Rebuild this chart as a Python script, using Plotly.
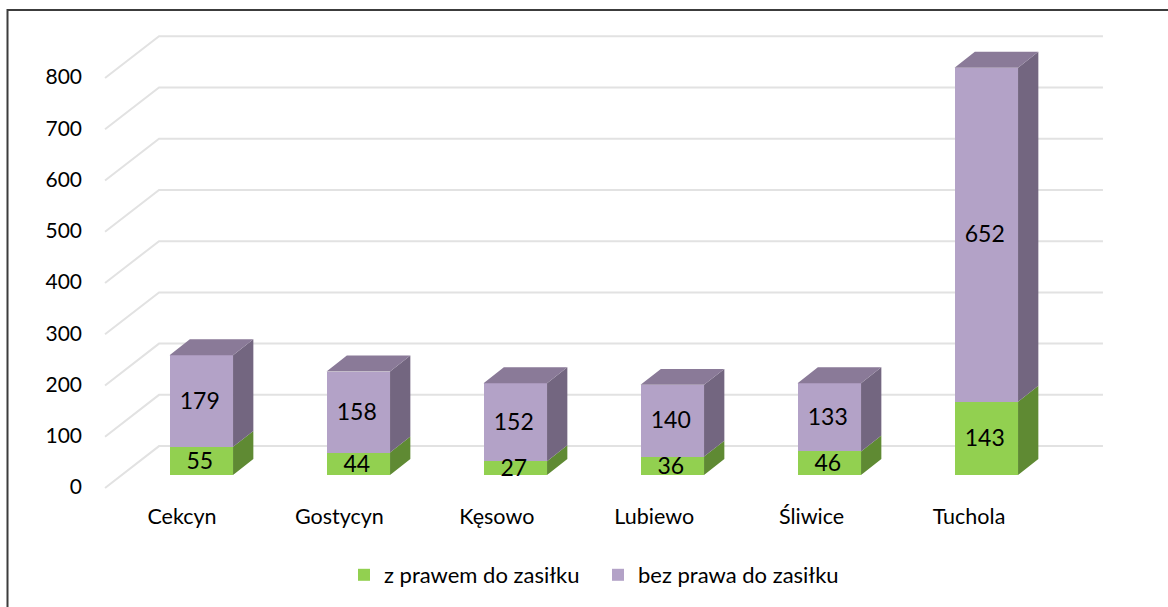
import plotly.graph_objects as go

categories = ["Cekcyn", "Gostycyn", "Kęsowo", "Lubiewo", "Śliwice", "Tuchola"]
z_prawem = [55, 44, 27, 36, 46, 143]
bez_prawa = [179, 158, 152, 140, 133, 652]
y_ticks = [0, 100, 200, 300, 400, 500, 600, 700, 800]

W, H = 1168, 607
PX_LEFT, PX_RIGHT, PX_TOP, PX_BOTTOM = 100, 1110, 20, 500
X0_PX, X_SCALE = 182.0, 157.4
Y0_PX, Y_SCALE = 489.0, 0.5135

x_range = [(PX_LEFT - X0_PX) / X_SCALE, (PX_RIGHT - X0_PX) / X_SCALE]
y_range = [(Y0_PX - PX_BOTTOM) / Y_SCALE, (Y0_PX - PX_TOP) / Y_SCALE]

# oblique projection: depth expressed in axis units
WALL_DX, WALL_DY = 54 / X_SCALE, 42 / Y_SCALE
FLOOR_LEFT, FLOOR_RIGHT = -0.489, 5.508
BAR_SHIFT_X, BAR_SHIFT_Y = 19.3 / X_SCALE, 13 / Y_SCALE
BAR_PITCH = 157.0 / X_SCALE
BAR_W = 63.5 / X_SCALE
BAR_DX, BAR_DY = 20.3 / X_SCALE, 16 / Y_SCALE
LABEL_DX, LABEL_DY = -1.5 / X_SCALE, -2.0 / Y_SCALE

GREEN, GREEN_SIDE = "#92D050", "#5F8A33"
PURPLE, PURPLE_SIDE, PURPLE_TOP = "#B3A2C7", "#736680", "#8A7A98"
GRID = "#E2E2E2"
FONT = "Lato"

fig = go.Figure()

lows = [0] * len(categories)
tops = [a for a in z_prawem]
stack = [sum(p) for p in zip(z_prawem, bez_prawa)]
x_front = [i * BAR_PITCH + BAR_SHIFT_X for i in range(len(categories))]


def side_polys(low, high):
    xs, ys = [], []
    for c, a, b in zip(x_front, low, high):
        r = c + BAR_W / 2
        ya, yb = a + BAR_SHIFT_Y, b + BAR_SHIFT_Y
        xs += [r, r + BAR_DX, r + BAR_DX, r, r, None]
        ys += [ya, ya + BAR_DY, yb + BAR_DY, yb, ya, None]
    return xs, ys


def top_polys(high):
    xs, ys = [], []
    for c, b in zip(x_front, high):
        l = c - BAR_W / 2
        r = l + BAR_W
        y = b + BAR_SHIFT_Y
        xs += [l, r, r + BAR_DX, l + BAR_DX, l, None]
        ys += [y, y, y + BAR_DY, y + BAR_DY, y, None]
    return xs, ys


fig.add_bar(
    x=x_front, y=z_prawem, base=[BAR_SHIFT_Y] * len(categories), width=BAR_W,
    name="z prawem do zasiłku", marker=dict(color=GREEN, line=dict(width=0)), hoverinfo="skip",
)
fig.add_bar(
    x=x_front, y=bez_prawa, base=[v + BAR_SHIFT_Y for v in z_prawem], width=BAR_W,
    name="bez prawa do zasiłku", marker=dict(color=PURPLE, line=dict(width=0)), hoverinfo="skip",
)

for (xs, ys), col in [
    (side_polys(lows, tops), GREEN_SIDE),
    (side_polys(tops, stack), PURPLE_SIDE),
    (top_polys(stack), PURPLE_TOP),
]:
    fig.add_scatter(x=xs, y=ys, mode="lines", fill="toself", fillcolor=col,
                    line=dict(width=0, color=col), showlegend=False, hoverinfo="skip")

# data labels centred on each front face
for low, vals in [(lows, z_prawem), (z_prawem, bez_prawa)]:
    fig.add_scatter(
        x=[c + LABEL_DX for c in x_front],
        y=[a + v / 2 + BAR_SHIFT_Y + LABEL_DY for a, v in zip(low, vals)],
        mode="text", text=vals, textposition="middle center", cliponaxis=False,
        textfont=dict(family=FONT, size=23, color="#000000"),
        showlegend=False, hoverinfo="skip",
    )

# wall and floor gridlines, from the value ticks
shapes = []
for t in y_ticks:
    path_x = [FLOOR_LEFT, FLOOR_LEFT + WALL_DX, FLOOR_RIGHT + WALL_DX]
    path_y = [t, t + WALL_DY, t + WALL_DY]
    d = "M" + " L".join(f"{a},{b}" for a, b in zip(path_x, path_y))
    shapes.append(dict(type="path", path=d, xref="x", yref="y", layer="below",
                       line=dict(color=GRID, width=2)))


def paper_x(px):
    return (px - PX_LEFT) / (PX_RIGHT - PX_LEFT)


def paper_y(px):
    return (PX_BOTTOM - px) / (PX_BOTTOM - PX_TOP)


# chart frame: only the left and top edges fall inside the picture
shapes.append(dict(type="path",
                   path=f"M{paper_x(7.5)},{paper_y(H + 5)} L{paper_x(7.5)},{paper_y(10)} L{paper_x(W + 5)},{paper_y(10)}",
                   xref="paper", yref="paper", layer="below",
                   line=dict(color="#3C3C3C", width=2)))

fig.update_layout(
    width=W, height=H, autosize=False,
    margin=dict(l=PX_LEFT, r=W - PX_RIGHT, t=PX_TOP, b=H - PX_BOTTOM, pad=0),
    paper_bgcolor="white", plot_bgcolor="rgba(0,0,0,0)",
    barmode="overlay", bargap=0, shapes=shapes,
    font=dict(family=FONT, size=21, color="#000000"),
    legend=dict(orientation="h", x=paper_x(344), xref="paper", xanchor="left",
                y=paper_y(575), yanchor="middle",
                bgcolor="rgba(0,0,0,0)", font=dict(family=FONT, size=22),
                traceorder="normal", entrywidth=209, entrywidthmode="pixels"),
    xaxis=dict(range=x_range, tickmode="array", tickvals=list(range(len(categories))),
               ticktext=categories, showgrid=False, zeroline=False, showline=False,
               ticks="", ticklen=0, tickfont=dict(family=FONT, size=21.5), ticklabelstandoff=2),
    yaxis=dict(range=y_range, tickmode="array", tickvals=y_ticks, showgrid=False,
               zeroline=False, showline=False, ticks="", tickfont=dict(family=FONT, size=21),
               ticklabelstandoff=17, ticklabelshift=-1),
    showlegend=True,
)
fig.write_html("out.html", config={"displayModeBar": False},
               post_script="document.body.style.margin='0';document.body.style.overflow='hidden';")
